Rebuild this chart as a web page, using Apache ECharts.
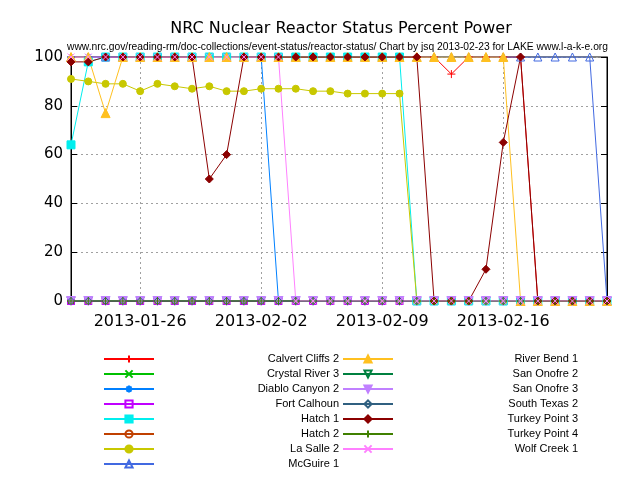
<!DOCTYPE html>
<html><head><meta charset="utf-8">
<script src="https://cdn.jsdelivr.net/npm/echarts@6/dist/echarts.min.js"></script>
<style>html,body{margin:0;padding:0;background:#fff}#c{width:640px;height:480px}</style>
</head><body><div id="c"></div>
<script>
// ---- data ----
const dates = ['2013-01-22','2013-01-23','2013-01-24','2013-01-25','2013-01-26','2013-01-27','2013-01-28','2013-01-29','2013-01-30','2013-01-31','2013-02-01','2013-02-02','2013-02-03','2013-02-04','2013-02-05','2013-02-06','2013-02-07','2013-02-08','2013-02-09','2013-02-10','2013-02-11','2013-02-12','2013-02-13','2013-02-14','2013-02-15','2013-02-16','2013-02-17','2013-02-18','2013-02-19','2013-02-20','2013-02-21','2013-02-22'];
const labelDates = ['2013-01-26','2013-02-02','2013-02-09','2013-02-16'];
const yTicks = [0,20,40,60,80,100];

const calvertCliffs2 = [100,100,100,100,100,100,100,100,100,100,100,100,100,100,100,100,100,100,100,100,100,100,93,100,100,100,100,0,0,0,0,0];
const crystalRiver3  = [0,0,0,0,0,0,0,0,0,0,0,0,0,0,0,0,0,0,0,0,0,0,0,0,0,0,0,0,0,0,0,0];
const diabloCanyon2  = [100,100,100,100,100,100,100,100,100,100,100,100,0,0,0,0,0,0,0,0,0,0,0,0,0,0,0,0,0,0,0,0];
const fortCalhoun    = [0,0,0,0,0,0,0,0,0,0,0,0,0,0,0,0,0,0,0,0,0,0,0,0,0,0,0,0,0,0,0,0];
const hatch1         = [64,98,100,100,100,100,100,100,100,100,100,100,100,100,100,100,100,100,100,100,0,0,0,0,0,0,0,0,0,0,0,0];
const hatch2         = [0,0,0,0,0,0,0,0,0,0,0,0,0,0,0,0,0,0,0,0,0,0,0,0,0,0,0,0,0,0,0,0];
const laSalle2       = [91,90,89,89,86,89,88,87,88,86,86,87,87,87,86,86,85,85,85,85,0,0,0,0,0,0,0,0,0,0,0,0];
const mcGuire1       = [100,100,100,100,100,100,100,100,100,100,100,100,100,100,100,100,100,100,100,100,100,100,100,100,100,100,100,100,100,100,100,0];
const riverBend1     = [100,100,77,100,100,100,100,100,100,100,100,100,100,100,100,100,100,100,100,100,100,100,100,100,100,100,0,0,0,0,0,0];
const sanOnofre2     = [0,0,0,0,0,0,0,0,0,0,0,0,0,0,0,0,0,0,0,0,0,0,0,0,0,0,0,0,0,0,0,0];
const sanOnofre3     = [0,0,0,0,0,0,0,0,0,0,0,0,0,0,0,0,0,0,0,0,0,0,0,0,0,0,0,0,0,0,0,0];
const southTexas2    = [0,0,0,0,0,0,0,0,0,0,0,0,0,0,0,0,0,0,0,0,0,0,0,0,0,0,0,0,0,0,0,0];
const turkeyPoint3   = [98,98,100,100,100,100,100,100,50,60,100,100,100,100,100,100,100,100,100,100,100,0,0,0,13,65,100,0,0,0,0,0];
const turkeyPoint4   = [0,0,0,0,0,0,0,0,0,0,0,0,0,0,0,0,0,0,0,0,0,0,0,0,0,0,0,0,0,0,0,0];
const wolfCreek1     = [100,100,100,100,100,100,100,100,100,100,100,100,100,0,0,0,0,0,0,0,0,0,0,0,0,0,0,0,0,0,0,0];

const seriesNames = ['Calvert Cliffs 2','Crystal River 3','Diablo Canyon 2','Fort Calhoun','Hatch 1','Hatch 2','La Salle 2','McGuire 1','River Bend 1','San Onofre 2','San Onofre 3','South Texas 2','Turkey Point 3','Turkey Point 4','Wolf Creek 1'];
const seriesValues = [calvertCliffs2,crystalRiver3,diabloCanyon2,fortCalhoun,hatch1,hatch2,laSalle2,mcGuire1,riverBend1,sanOnofre2,sanOnofre3,southTexas2,turkeyPoint3,turkeyPoint4,wolfCreek1];

const titleText = 'NRC Nuclear Reactor Status Percent Power';
const subText = 'www.nrc.gov/reading-rm/doc-collections/event-status/reactor-status/ Chart by jsq 2013-02-23 for LAKE www.l-a-k-e.org';

// ---- styles ----
const colors = ['#ff0000','#00c000','#0080ff','#c000ff','#00eeee','#c04000','#c8c800','#4169e1','#ffc020','#008040','#c080ff','#306080','#8b0000','#408000','#ff80ff'];
const P = {
  plus: 'path://M0,5L10,5M5,0L5,10',
  cross: 'path://M0,0L10,10M10,0L0,10',
  star: 'path://M0,5L10,5M5,0L5,10M1.5,1.5L8.5,8.5M8.5,1.5L1.5,8.5',
  sq: 'path://M0,0L10,0L10,10L0,10Z',
  circ: 'circle',
  tri: 'path://M5,0L10,9L0,9Z',
  itri: 'path://M0,0L10,0L5,9Z',
  dia: 'path://M5,0L10,5L5,10L0,5Z'
};
const marks = [
  [P.plus,false],[P.cross,false],[P.star,false],[P.sq,false],[P.sq,true],
  [P.circ,false],[P.circ,true],[P.tri,false],[P.tri,true],[P.itri,false],
  [P.itri,true],[P.dia,false],[P.dia,true],[P.plus,false],[P.cross,false]
];
const sizes = [8,7,8,7,8,6,7,8,9,8,9,7,8,8,7];

const series = seriesNames.map((n,i)=>{
  const c = colors[i];
  const m = marks[i];
  return {
    name: n, type: 'line', data: seriesValues[i],
    symbol: m[0], symbolSize: sizes[i], showAllSymbol: true,
    lineStyle: {color: c, width: 1},
    itemStyle: {color: m[1] ? c : 'rgba(0,0,0,0)', borderColor: c, borderWidth: 1},
    emphasis: {disabled: true},
    animation: false
  };
});

// fit subtitle width like the reference (horizontal squeeze)
const cv = document.createElement('canvas').getContext('2d');
cv.font = '11px "Liberation Sans"';
const subW = cv.measureText(subText).width;
const subScale = Math.min(1, 541 / subW);

const chart = echarts.init(document.getElementById('c'), null, {renderer: 'canvas'});
const labelIdx = labelDates.map(d=>dates.indexOf(d));
const pick = (i)=>labelIdx.indexOf(i) >= 0;
const legFont = 'Liberation Sans';
chart.setOption({
  backgroundColor: '#fff',
  animation: false,
  color: colors,
  title: {
    text: titleText,
    left: 336, top: 16, textAlign: 'center',
    textStyle: {fontFamily: 'DejaVu Sans', fontSize: 16, fontWeight: 'normal', color: '#000'}
  },
  graphic: [{
    type: 'text', x: 67, y: 41, scaleX: subScale,
    style: {text: subText, fontFamily: 'Liberation Sans', fontSize: 11, fill: '#000'}
  }],
  grid: {left: 71, right: 33, top: 57, bottom: 179, show: true, borderColor: '#000', borderWidth: 1, backgroundColor: 'transparent'},
  legend: {
    orient: 'vertical', left: 103, top: 353, height: 122,
    itemWidth: 50, itemHeight: 9, itemGap: 3, padding: 0,
    data: seriesNames,
    selectedMode: false,
    formatter: n => '{a|' + n + '}',
    textStyle: {fontFamily: legFont, fontSize: 11, color: '#000',
      rich: {a: {width: 180, height: 12, lineHeight: 12, align: 'right', fontFamily: legFont, fontSize: 11, color: '#000'}}}
  },
  xAxis: {
    type: 'category', data: dates, boundaryGap: false,
    axisLine: {lineStyle: {color: '#000'}},
    axisTick: {inside: true, length: 5, interval: (i)=>pick(i), lineStyle: {color: '#000'}},
    axisLabel: {interval: (i)=>pick(i), fontFamily: 'DejaVu Sans', fontSize: 16, color: '#000', margin: 13},
    splitLine: {show: true, interval: (i)=>pick(i), lineStyle: {color: '#a0a0a0', type: [2,3], width: 1}}
  },
  yAxis: [{
    type: 'value', min: yTicks[0], max: yTicks[yTicks.length-1], interval: 20,
    axisLine: {show: true, lineStyle: {color: '#000'}},
    axisTick: {show: true, inside: true, length: 6, lineStyle: {color: '#000'}},
    axisLabel: {fontFamily: 'DejaVu Sans', fontSize: 15, color: '#000', margin: 8},
    splitLine: {show: true, lineStyle: {color: '#a0a0a0', type: [2,3], width: 1}}
  },{
    type: 'value', min: 0, max: 100, interval: 20, position: 'right',
    axisLine: {show: true, lineStyle: {color: '#000'}},
    axisTick: {show: true, inside: true, length: 6, lineStyle: {color: '#000'}},
    axisLabel: {show: false}, splitLine: {show: false}
  }],
  series: series
});
</script></body></html>
